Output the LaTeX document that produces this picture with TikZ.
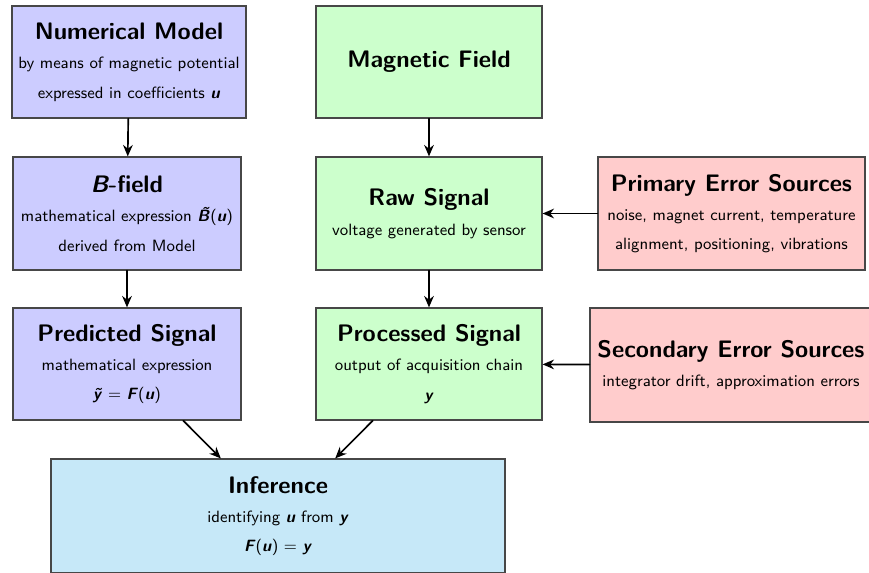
\documentclass[tikz,border=0pt]{standalone}
\usetikzlibrary{arrows.meta}
\renewcommand{\familydefault}{\sfdefault}
\newcommand{\bv}[1]{\textbf{\textit{#1}}}
\newcommand{\tildeB}{\leavevmode\hbox{\ooalign{\bv{B}\cr\hidewidth\kern0.12em\raisebox{0.2em}{\bv{\char"02DC}}\hidewidth\cr}}}
\definecolor{modelblue}{RGB}{204,204,255}
\definecolor{signalgreen}{RGB}{204,255,204}
\definecolor{errorred}{RGB}{255,204,204}
\definecolor{infercyan}{RGB}{198,232,248}

\begin{document}
\begin{tikzpicture}[x=0.02cm,y=-0.02cm,line cap=round,
  box/.style={draw=black!72,line width=0.7pt,align=center,inner sep=0pt,
    font=\fontsize{9.3}{11.2}\selectfont},
  flow/.style={-{Stealth[length=6.5pt,width=5.5pt]},line width=0.95pt}]
  \clip (0,0) rectangle (869,572);
  \def\ttl{\fontsize{13.6}{16}\selectfont\bfseries}
  % model side
  \node[box,fill=modelblue,minimum width=4.68cm,minimum height=2.24cm] (model) at (129,62)
    {{\ttl Numerical Model}\\[5.5pt] by means of magnetic potential\\[5.5pt] expressed in coefficients \bv{u}};
  \node[box,fill=modelblue,minimum width=4.56cm,minimum height=2.26cm] (bfield) at (127,213.5)
    {{\ttl\itshape B\upshape-field}\\[5.5pt] mathematical expression \tildeB(\bv{u})\\[5.5pt] derived from Model};
  \node[box,fill=modelblue,minimum width=4.56cm,minimum height=2.24cm] (predicted) at (127,364)
    {{\ttl Predicted Signal}\\[5.5pt] mathematical expression\\[5.5pt] \bv{\~{y}} = \bv{F}(\bv{u})};
  % measurement side
  \node[box,fill=signalgreen,minimum width=4.52cm,minimum height=2.24cm] (field) at (429,62)
    {{\ttl Magnetic Field}};
  \node[box,fill=signalgreen,minimum width=4.52cm,minimum height=2.26cm] (raw) at (429,213.5)
    {{\ttl Raw Signal}\\[5.5pt] voltage generated by sensor};
  \node[box,fill=signalgreen,minimum width=4.52cm,minimum height=2.24cm] (processed) at (429,364)
    {{\ttl Processed Signal}\\[5.5pt] output of acquisition chain\\[5.5pt] \bv{y}};
  % error sources
  \node[box,fill=errorred,minimum width=5.34cm,minimum height=2.26cm] (primary) at (731.5,213.5)
    {{\ttl Primary Error Sources}\\[5.5pt] noise, magnet current, temperature\\[5.5pt] alignment, positioning, vibrations};
  \node[box,fill=errorred,minimum width=5.64cm,minimum height=2.28cm] (secondary) at (731,365)
    {{\ttl Secondary Error Sources}\\[5.5pt] integrator drift, approximation errors};
  % inference
  \node[box,fill=infercyan,minimum width=9.08cm,minimum height=2.28cm] (inference) at (278,516)
    {{\ttl Inference}\\[5.5pt] identifying \bv{u} from \bv{y}\\[5.5pt] \bv{F}(\bv{u}) = \bv{y}};
  \draw[flow] (model) -- (bfield);
  \draw[flow] (bfield) -- (predicted);
  \draw[flow] (field) -- (raw);
  \draw[flow] (raw) -- (processed);
  \draw[flow] (primary) -- (raw);
  \draw[flow] (secondary) -- (processed);
  \draw[flow] (predicted) -- (inference);
  \draw[flow] (processed) -- (inference);
\end{tikzpicture}
\end{document}
